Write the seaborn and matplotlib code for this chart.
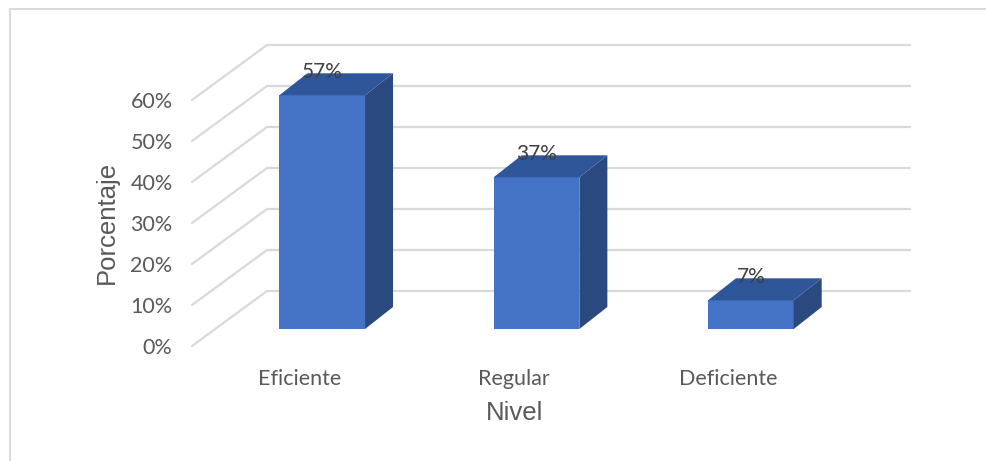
import matplotlib
matplotlib.use("Agg")
import matplotlib.pyplot as plt
from matplotlib.lines import Line2D
from matplotlib.patches import Polygon
import pandas as pd
import seaborn as sns

# Data
niveles = ["Eficiente", "Regular", "Deficiente"]
porcentajes = [57, 37, 7]
ticks_y = [0, 10, 20, 30, 40, 50, 60]
ticks_y_labels = ["0%", "10%", "20%", "30%", "40%", "50%", "60%"]

sns.set_theme(style="white")
plt.rcParams["font.family"] = ["Lato", "DejaVu Sans"]

W, H = 987, 461
fig = plt.figure(figsize=(W / 100, H / 100), dpi=100)
fig.patch.set_facecolor("white")

# chart-area frame (left and top edges)
frame_col = "#D9D9D9"
fig.add_artist(Line2D([9.5 / W, 9.5 / W], [0, 1 - 9.5 / H], transform=fig.transFigure,
                      color=frame_col, lw=1.4))
fig.add_artist(Line2D([9.5 / W, 1], [1 - 9.5 / H, 1 - 9.5 / H], transform=fig.transFigure,
                      color=frame_col, lw=1.4))

# axes = front edge plane of the 3D floor
left_px, right_px, base_px, top_px = 192, 835, 346, 100
ax = fig.add_axes([left_px / W, (H - base_px) / H,
                   (right_px - left_px) / W, (base_px - top_px) / H])

df = pd.DataFrame({"Nivel": niveles, "Porcentaje": porcentajes})
sns.barplot(data=df, x="Nivel", y="Porcentaje", color="#4472C4", saturation=1,
            width=0.4, ax=ax, zorder=3)

ax.set_xlim(-0.5, 2.5)
ax.set_ylim(0, 60)

PX_X = (right_px - left_px) / 3.0
PX_Y = (base_px - top_px) / 60.0


def px(dx, dy):
    return dx / PX_X, dy / PX_Y


wall = px(75, 55)       # floor front edge -> back wall
front_off = px(23, 17)  # floor front edge -> bar front face
depth = px(28, 22)      # bar depth

# gridlines: floor diagonal + back wall horizontal
for v in ticks_y:
    ax.plot([-0.5, -0.5 + wall[0], 2.5 + wall[0]],
            [v, v + wall[1], v + wall[1]],
            color=frame_col, lw=1.6, clip_on=False, zorder=1,
            solid_joinstyle="miter")

top_col = "#30569A"
side_col = "#2A4A7F"
for patch, val in zip(ax.patches, porcentajes):
    w = patch.get_width()
    h = patch.get_height()
    x0 = patch.get_x() + front_off[0]
    y0 = front_off[1]
    y1 = y0 + h
    patch.set_x(x0)
    patch.set_y(y0)
    patch.set_clip_on(False)
    patch.set_edgecolor("none")
    dx, dy = depth
    top = Polygon([(x0, y1), (x0 + w, y1), (x0 + w + dx, y1 + dy), (x0 + dx, y1 + dy)],
                  closed=True, facecolor=top_col, edgecolor="none", zorder=3,
                  clip_on=False)
    side = Polygon([(x0 + w, y0), (x0 + w + dx, y0 + dy), (x0 + w + dx, y1 + dy), (x0 + w, y1)],
                   closed=True, facecolor=side_col, edgecolor="none", zorder=3,
                   clip_on=False)
    ax.add_patch(side)
    ax.add_patch(top)
    ax.text(x0 + w / 2, y1 + dy - 5 / PX_Y, f"{val}%", ha="center", va="baseline",
            color="#404040", fontsize=15, zorder=5, clip_on=False)

for s in ax.spines.values():
    s.set_visible(False)
ax.set_facecolor("none")
ax.grid(False)

ax.set_yticks(ticks_y)
ax.set_yticklabels(ticks_y_labels)
ax.tick_params(axis="both", length=0, labelsize=15.5, labelcolor="#595959")
ax.tick_params(axis="y", pad=14)
ax.tick_params(axis="x", pad=16.5)

ax.set_xlabel("Nivel", fontsize=18.5, color="#595959", family=["Liberation Sans", "DejaVu Sans"])
ax.set_ylabel("Porcentaje", fontsize=18.5, color="#595959", family=["Liberation Sans", "DejaVu Sans"])
ax.xaxis.set_label_coords((515 - left_px) / (right_px - left_px), (base_px - 413) / (base_px - top_px))
ax.xaxis.label.set_va("center")
ax.yaxis.set_label_coords((107 - left_px) / (right_px - left_px), (base_px - 222) / (base_px - top_px))
ax.yaxis.label.set_va("center")

fig.savefig("out.png", dpi=100)
